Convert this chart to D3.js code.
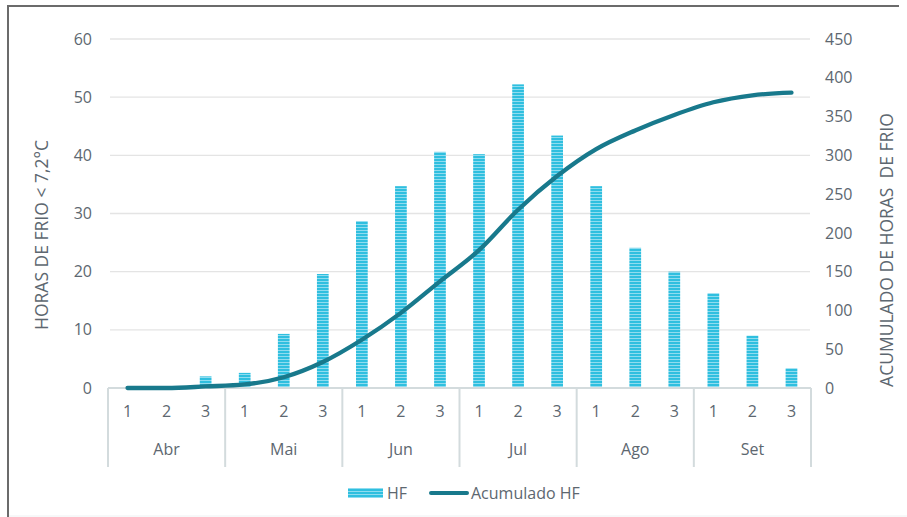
<!DOCTYPE html>
<html><head><meta charset="utf-8">
<script src="https://cdn.jsdelivr.net/npm/d3@7"></script>
<style>
html,body{margin:0;padding:0;background:#fff;}
svg{display:block;font-family:"Open Sans",sans-serif;}
</style></head>
<body>
<svg id="chart" width="907" height="517"></svg>
<script>
const months = ["Abr","Mai","Jun","Jul","Ago","Set"];
const dekads = ["1","2","3"];
const hf = [0,0,2,2.6,9.3,19.6,28.7,34.7,40.6,40.2,52.2,43.4,34.7,24.1,20.0,16.3,9.0,3.4];
const leftTicks = [0,10,20,30,40,50,60];
const rightTicks = [0,50,100,150,200,250,300,350,400,450];
const leftTitle = "HORAS DE FRIO < 7,2°C";
const rightTitle = "ACUMULADO DE HORAS  DE FRIO";
const legendLabels = ["HF","Acumulado HF"];

const acum = Array.from(d3.cumsum(hf));
const cats = [];
months.forEach(m => dekads.forEach(d => cats.push(m + "-" + d)));

const svg = d3.select("#chart");
const textColor = "#5d6770";
const x0 = 108, x1 = 811, yTop = 39, yBot = 388;

const x = d3.scaleBand().domain(cats).range([x0, x1]).paddingInner(0.7).paddingOuter(0.35);
const xm = d3.scaleBand().domain(months).range([x0, x1]);
const yL = d3.scaleLinear().domain([0,60]).range([yBot, yTop]);
const yR = d3.scaleLinear().domain([0,450]).range([yBot, yTop]);

// pattern for bars
const defs = svg.append("defs");
const pat = defs.append("pattern").attr("id","stripes").attr("patternUnits","userSpaceOnUse")
  .attr("width",8).attr("height",3);
pat.append("rect").attr("width",8).attr("height",3).attr("fill","#2fbfdf");
pat.append("rect").attr("y",2).attr("width",8).attr("height",1).attr("fill","#8fdcef");

// outer frame (top and left)
svg.append("line").attr("x1",7).attr("x2",899).attr("y1",6).attr("y2",6).attr("stroke","#6b6b6b").attr("stroke-width",2);
svg.append("line").attr("x1",8).attr("x2",8).attr("y1",5).attr("y2",517).attr("stroke","#6b6b6b").attr("stroke-width",2);
svg.append("line").attr("x1",9).attr("x2",907).attr("y1",516).attr("y2",516).attr("stroke","#eef1f2").attr("stroke-width",1);

// gridlines
svg.append("g").selectAll("line").data(leftTicks.filter(t=>t>0)).join("line")
  .attr("x1",x0+2).attr("x2",x1-1).attr("y1",d=>yL(d)).attr("y2",d=>yL(d))
  .attr("stroke","#e4e4e4").attr("stroke-width",1.3);

// left axis labels
const gL = svg.append("g").attr("transform",`translate(${x0-16},0)`)
  .call(d3.axisLeft(yL).tickValues(leftTicks).tickSize(0).tickPadding(0));
gL.select(".domain").remove();
gL.selectAll("text").attr("fill",textColor).style("font-size","16px").style("font-family","'Open Sans',sans-serif");

// right axis labels
const gR = svg.append("g").attr("transform",`translate(${x1+14},0)`)
  .call(d3.axisRight(yR).tickValues(rightTicks).tickSize(0).tickPadding(0));
gR.select(".domain").remove();
gR.selectAll("text").attr("fill",textColor).style("font-size","16px").style("font-family","'Open Sans',sans-serif");

// bars
svg.append("g").selectAll("rect").data(hf).join("rect")
  .attr("x",(d,i)=>x(cats[i])).attr("width",x.bandwidth())
  .attr("y",d=>yL(d)).attr("height",d=>yBot-yL(d))
  .attr("fill","url(#stripes)");

// category axis
const axisColor = "#d3dbdd";
svg.append("line").attr("x1",x0).attr("x2",x1).attr("y1",yBot).attr("y2",yBot)
  .attr("stroke",axisColor).attr("stroke-width",2);
const bounds = months.map(m=>xm(m)).concat([x1]);
svg.append("g").selectAll("line").data(bounds).join("line")
  .attr("x1",d=>d).attr("x2",d=>d).attr("y1",yBot).attr("y2",467)
  .attr("stroke",axisColor).attr("stroke-width",2);
svg.append("g").selectAll("text").data(cats).join("text")
  .attr("x",d=>x(d)+x.bandwidth()/2).attr("y",417).attr("text-anchor","middle")
  .attr("fill",textColor).style("font-size","16px")
  .text((d,i)=>dekads[i%3]);
svg.append("g").selectAll("text").data(months).join("text")
  .attr("x",d=>xm(d)+xm.bandwidth()/2).attr("y",455).attr("text-anchor","middle")
  .attr("fill",textColor).style("font-size","16px")
  .text(d=>d);

// cumulative line
const line = d3.line().x((d,i)=>x(cats[i])+x.bandwidth()/2).y(d=>yR(d)).curve(d3.curveMonotoneX);
svg.append("path").datum(acum).attr("d",line).attr("fill","none")
  .attr("stroke","#18798c").attr("stroke-width",4.3).attr("stroke-linecap","round");

// axis titles
svg.append("text").attr("transform",`translate(48,235) rotate(-90)`)
  .attr("text-anchor","middle").attr("fill",textColor).style("font-size","17.5px").text(leftTitle);
svg.append("text").attr("transform",`translate(893,250) rotate(-90)`)
  .attr("text-anchor","middle").attr("fill",textColor).style("font-size","17.5px")
  .style("white-space","pre").text(rightTitle);

// legend
const lg = svg.append("g");
lg.append("rect").attr("x",348).attr("y",488).attr("width",35).attr("height",10).attr("fill","url(#stripes)");
lg.append("text").attr("x",387).attr("y",499).attr("fill",textColor).style("font-size","16px").text(legendLabels[0]);
lg.append("line").attr("x1",431).attr("x2",467).attr("y1",493).attr("y2",493)
  .attr("stroke","#18798c").attr("stroke-width",4).attr("stroke-linecap","round");
lg.append("text").attr("x",471).attr("y",499).attr("fill",textColor).style("font-size","16px").text(legendLabels[1]);
</script>
</body></html>
